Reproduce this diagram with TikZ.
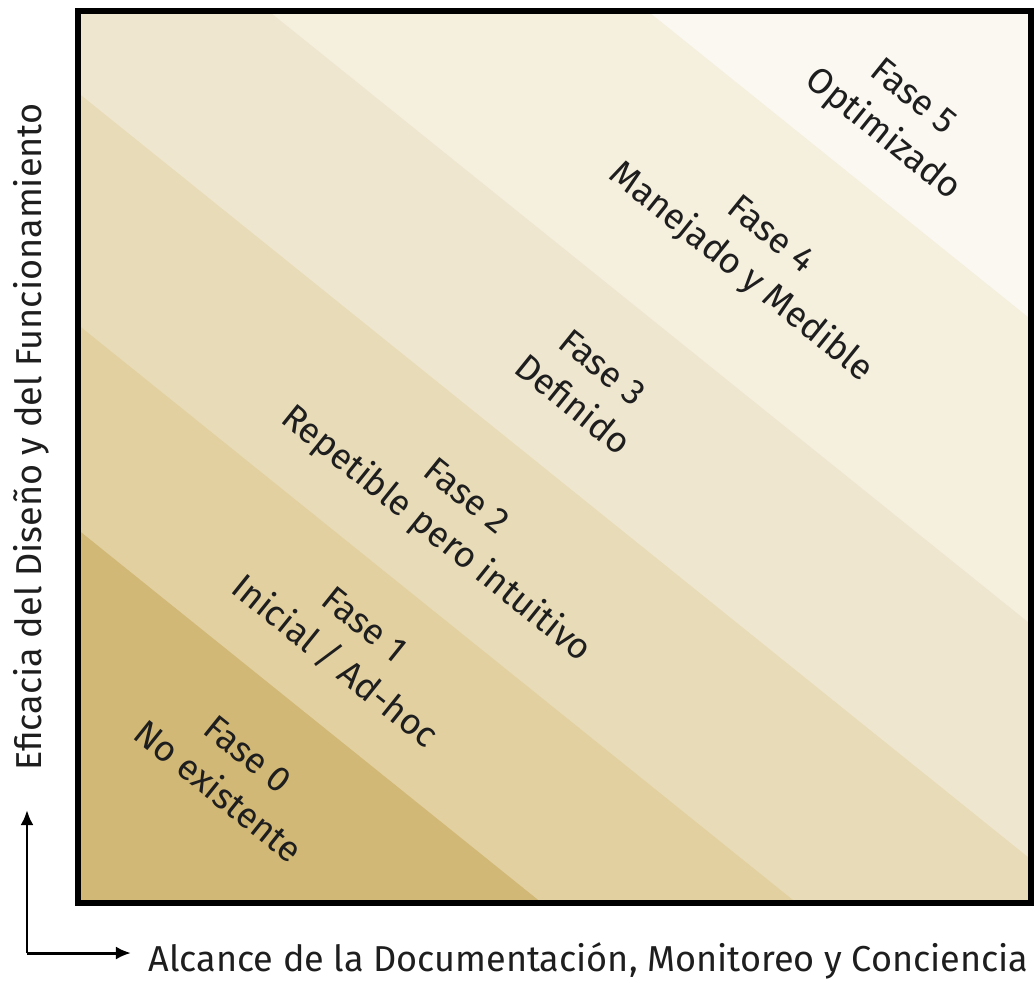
\documentclass[tikz,border=0pt]{standalone}
\usepackage{fontspec}
\setmainfont{Fira Sans}
\usepackage{xcolor}
\usetikzlibrary{arrows.meta,positioning}
% colores de las fases
\definecolor{fase0}{RGB}{210,184,118}
\definecolor{fase1}{RGB}{226,208,161}
\definecolor{fase2}{RGB}{232,220,184}
\definecolor{fase3}{RGB}{239,230,207}
\definecolor{fase4}{RGB}{245,239,222}
\definecolor{fase5}{RGB}{250,248,241}
\definecolor{texto}{RGB}{30,30,30}
\tikzset{
    fase/.style={
        rotate=-38.8,
        align=center,
        text=texto,
        inner sep=0pt,
        font=\fontsize{10.2}{13.5}\selectfont
    },
    rotulo/.style={text=texto, inner sep=0pt, font=\fontsize{10.25}{12}\selectfont},
    eje/.style={-{Latex[length=1.5mm,width=1.3mm]}, line width=0.85pt},
    marco/.style={draw=black, line width=1.7pt}
}

\begin{document}
\begin{tikzpicture}[x=0.01cm,y=-0.01cm]
    \useasboundingbox (0,0) rectangle (1034,981);

    % Bandas diagonales, de la mas clara a la mas oscura
    \begin{scope}
        \clip (78,11) rectangle (1031,903);
        \fill[fase5] (0,0) rectangle (1100,1000);
        \foreach \c/\col in {-510/fase4, -205/fase3, 30/fase2, 262/fase1, 467/fase0}
            \fill[\col] (0,\c) -- (1100,{\c+885}) -- (1100,1000) -- (0,1000) -- cycle;
    \end{scope}

    % Marco
    \draw[marco] (78,11) rectangle (1031,903);

    % Etiquetas de las fases
    \node[fase] (f0) at (233,773) {Fase 0\\No existente};
    \node[fase] (f1) at (349,644) {Fase 1\\Inicial / Ad-hoc};
    \node[fase] (f2) at (450,517) {Fase 2\\Repetible pero intuitivo};
    \node[fase] (f3) at (588,386) {Fase 3\\Definido};
    \node[fase] (f4) at (755,255) {Fase 4\\Manejado y Medible};
    \node[fase] (f5) at (897,117) {Fase 5\\Optimizado};

    % Ejes
    \coordinate (origen) at (27,953);
    \coordinate (ejey) at (27,810);
    \coordinate (ejex) at (131,953);
    \draw[eje] (origen) -- (ejey);
    \draw[eje] (origen) -- (ejex);
    \node[rotulo, anchor=east] (alcance) at (1029,961)
        {Alcance de la Documentación, Monitoreo y Conciencia};
    \node[rotulo, rotate=90] (eficacia) at (31,437)
        {Eficacia del Diseño y del Funcionamiento};
\end{tikzpicture}
\end{document}
